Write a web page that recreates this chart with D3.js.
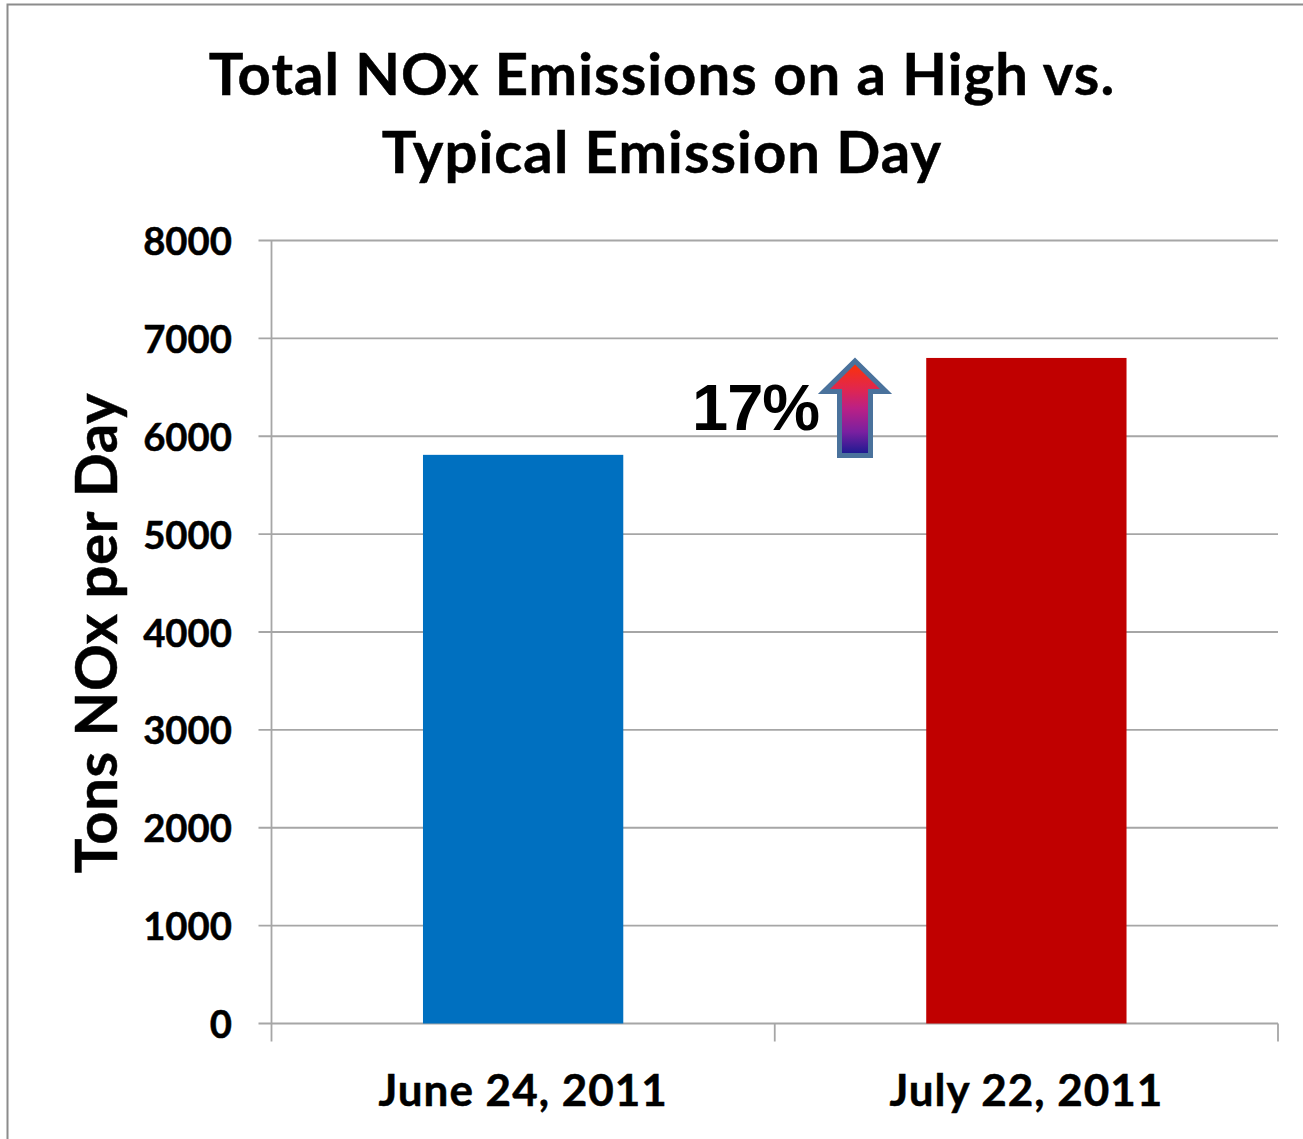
<!DOCTYPE html>
<html>
<head>
<meta charset="utf-8">
<script src="https://cdn.jsdelivr.net/npm/d3@7"></script>
<style>
  html, body { margin: 0; padding: 0; background: #fff; }
  svg { display: block; }
  text { font-family: Lato, "Open Sans", sans-serif; font-weight: 700; fill: #000; stroke: #000; stroke-width: 0.5px; }
</style>
</head>
<body>
<svg id="chart" width="1303" height="1139"></svg>
<script>
const categories = ["June 24, 2011", "July 22, 2011"];
const emissions = [5810, 6800];
const barColors = ["#0070C0", "#C00000"];
const yTicks = [0, 1000, 2000, 3000, 4000, 5000, 6000, 7000, 8000];
const titleLines = ["Total NOx Emissions on a High vs.", "Typical Emission Day"];
const yLabel = "Tons NOx per Day";
const changeLabel = "17%";

const svg = d3.select("#chart");
const plot = { left: 271.5, right: 1278, top: 240.5, bottom: 1023.5 };
const axisColor = "#a6a6a6";

const x = d3.scaleBand().domain(categories)
  .range([plot.left, plot.right]).paddingInner(0.602).paddingOuter(0.301);
const y = d3.scaleLinear().domain([0, 8000]).range([plot.bottom, plot.top]);

// Partial frame of the chart area: top and left edges only
svg.append("path")
  .attr("d", "M7.5,1139V4.5H1303")
  .attr("fill", "none").attr("stroke", "#8c8c8c").attr("stroke-width", 2);

// Title
svg.append("g").selectAll("text").data(titleLines).join("text")
  .attr("x", 662).attr("y", (d, i) => 95 + i * 78)
  .attr("text-anchor", "middle").attr("font-size", 58)
  .attr("letter-spacing", 1.1)
  .text(d => d);

// Gridlines with the left tick stubs
svg.append("g").selectAll("line").data(yTicks).join("line")
  .attr("x1", plot.left - 13).attr("x2", plot.right)
  .attr("y1", d => y(d)).attr("y2", d => y(d))
  .attr("stroke", axisColor).attr("stroke-width", 1.8);

// Bars
svg.append("g").selectAll("rect").data(emissions).join("rect")
  .attr("x", (d, i) => x(categories[i]))
  .attr("width", x.bandwidth())
  .attr("y", d => y(d))
  .attr("height", d => y(0) - y(d))
  .attr("fill", (d, i) => barColors[i]);

// Vertical axis line
svg.append("line")
  .attr("x1", plot.left).attr("x2", plot.left)
  .attr("y1", plot.top).attr("y2", plot.bottom + 18)
  .attr("stroke", axisColor).attr("stroke-width", 1.8);

// Category separators below the baseline
const step = x.step();
svg.append("g").selectAll("line").data(categories).join("line")
  .attr("x1", (d, i) => plot.left + step * (i + 1))
  .attr("x2", (d, i) => plot.left + step * (i + 1))
  .attr("y1", plot.bottom).attr("y2", plot.bottom + 18)
  .attr("stroke", axisColor).attr("stroke-width", 1.8);

// Value axis labels
svg.append("g").selectAll("text").data(yTicks).join("text")
  .attr("x", 232).attr("y", d => y(d) + 14.5)
  .attr("text-anchor", "end").attr("font-size", 38.3)
  .text(d => d);

// Category labels
svg.append("g").selectAll("text").data(categories).join("text")
  .attr("x", d => x(d) + x.bandwidth() / 2).attr("y", 1106)
  .attr("text-anchor", "middle").attr("font-size", 44)
  .attr("letter-spacing", 1)
  .text(d => d);

// Value axis title
svg.append("text")
  .attr("transform", "translate(117,633) rotate(-90)")
  .attr("text-anchor", "middle").attr("font-size", 58)
  .attr("letter-spacing", 0.7)
  .text(yLabel);

// Percentage callout
svg.append("text")
  .attr("x", 692).attr("y", 430)
  .attr("font-size", 65)
  .attr("letter-spacing", -1)
  .style("font-family", "'Liberation Sans', Arial, sans-serif")
  .style("stroke-width", "0px")
  .text(changeLabel);

// Up arrow shaded from red at the tip to navy at the base
const grad = svg.append("defs").append("linearGradient")
  .attr("id", "arrowFill").attr("x1", 0).attr("y1", 0).attr("x2", 0).attr("y2", 1);
grad.append("stop").attr("offset", "0%").attr("stop-color", "#ff3300");
grad.append("stop").attr("offset", "30%").attr("stop-color", "#e0264f");
grad.append("stop").attr("offset", "50%").attr("stop-color", "#bb2085");
grad.append("stop").attr("offset", "75%").attr("stop-color", "#7a20a0");
grad.append("stop").attr("offset", "100%").attr("stop-color", "#151a90");

svg.append("path")
  .attr("d", "M855,361L886,391.5H870.5V455.5H839.5V391.5H824Z")
  .attr("fill", "url(#arrowFill)")
  .attr("stroke", "#4a729c").attr("stroke-width", 5).attr("stroke-linejoin", "miter");
</script>
</body>
</html>
